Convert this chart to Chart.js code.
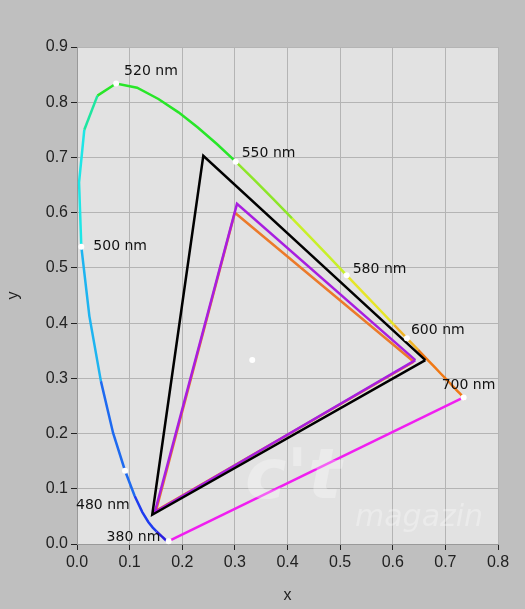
<!DOCTYPE html>
<html>
<head>
<meta charset="utf-8">
<script src="https://cdn.jsdelivr.net/npm/chart.js@4"></script>
<style>
  html, body { margin: 0; padding: 0; background: #bfbfbf; }
  #wrap { width: 525px; height: 609px; }
</style>
</head>
<body>
<div id="wrap"><canvas id="cie"></canvas></div>
<script>
// Spektralzug CIE 1931 (nm, x, y)
const wavelengths = [380,385,390,395,400,405,410,415,420,425,430,435,440,445,450,455,460,465,470,475,480,485,490,495,500,505,510,515,520,525,530,535,540,545,550,555,560,565,570,575,580,585,590,595,600,605,610,615,620,625,630,635,640,645,650,655,660,665,670,680,690,700];
const locusX = [0.1741,0.1740,0.1738,0.1736,0.1733,0.1730,0.1726,0.1721,0.1714,0.1703,0.1689,0.1669,0.1644,0.1611,0.1566,0.1510,0.1440,0.1355,0.1241,0.1096,0.0913,0.0687,0.0454,0.0235,0.0082,0.0039,0.0139,0.0389,0.0743,0.1142,0.1547,0.1929,0.2296,0.2658,0.3016,0.3373,0.3731,0.4087,0.4441,0.4788,0.5125,0.5448,0.5752,0.6029,0.6270,0.6482,0.6658,0.6801,0.6915,0.7006,0.7079,0.7140,0.7190,0.7230,0.7260,0.7283,0.7300,0.7311,0.7320,0.7334,0.7344,0.7347];
const locusY = [0.0050,0.0050,0.0049,0.0049,0.0048,0.0048,0.0048,0.0048,0.0051,0.0058,0.0069,0.0086,0.0109,0.0138,0.0177,0.0227,0.0297,0.0399,0.0578,0.0868,0.1327,0.2007,0.2950,0.4127,0.5384,0.6548,0.7502,0.8120,0.8338,0.8262,0.8059,0.7816,0.7543,0.7243,0.6923,0.6589,0.6245,0.5896,0.5547,0.5202,0.4866,0.4544,0.4242,0.3965,0.3725,0.3514,0.3340,0.3197,0.3083,0.2993,0.2920,0.2859,0.2809,0.2770,0.2740,0.2717,0.2700,0.2689,0.2680,0.2666,0.2656,0.2653];

// markierte Wellenlängen
const markedNm = [380, 480, 500, 520, 550, 580, 600, 700];
const markLabels = ['380 nm', '480 nm', '500 nm', '520 nm', '550 nm', '580 nm', '600 nm', '700 nm'];

// Farbdreiecke (Rot, Grün, Blau, zurück zu Rot)
const blackX  = [0.662, 0.240, 0.143, 0.662];
const blackY  = [0.333, 0.703, 0.053, 0.333];
const violetX = [0.643, 0.304, 0.148, 0.643];
const violetY = [0.333, 0.616, 0.058, 0.333];
const orangeX = [0.640, 0.300, 0.150, 0.640];
const orangeY = [0.330, 0.600, 0.060, 0.330];
const whiteX = [0.333];
const whiteY = [0.333];

const pts = (xs, ys) => xs.map((x, i) => ({ x: x, y: ys[i] }));

function locusColor(nm) {
    if (nm <= 450) return '#2a1ee0';
    if (nm <= 470) return '#1e3cf0';
    if (nm <= 485) return '#1e6af0';
    if (nm <= 495) return '#1eb4f0';
    if (nm <= 505) return '#1ee6e6';
    if (nm <= 512) return '#1ee6a0';
    if (nm <= 545) return '#28e628';
    if (nm <= 560) return '#8ce628';
    if (nm <= 575) return '#c8f028';
    if (nm <= 590) return '#e6e628';
    if (nm <= 600) return '#f0b428';
    return '#f07814';
}

const labelPlugin = {
    id: 'labels',
    afterDatasetsDraw(chart) {
        const ctx = chart.ctx;
        const xs = chart.scales.x, ys = chart.scales.y;
        const off = { 380: [-62, -4], 480: [-49, 35], 500: [12, 0], 520: [8, -12], 550: [6, -8], 580: [6, -6], 600: [4, -8], 700: [-22, -12] };
        ctx.save();
        ctx.font = '14px "DejaVu Sans", sans-serif';
        ctx.textBaseline = 'middle';
        // Wasserzeichen
        ctx.fillStyle = 'rgba(255,255,255,0.3)';
        ctx.font = 'italic bold 70px "DejaVu Sans", sans-serif';
        ctx.fillText("c't", 245, 480);
        ctx.font = 'italic 30px "DejaVu Sans", sans-serif';
        ctx.fillText('magazin', 355, 518);
        ctx.font = '14px "DejaVu Sans", sans-serif';
        markedNm.forEach((nm, i) => {
            const k = wavelengths.indexOf(nm);
            const px = xs.getPixelForValue(locusX[k]);
            const py = ys.getPixelForValue(locusY[k]);
            ctx.fillStyle = '#ffffff';
            ctx.beginPath(); ctx.arc(px, py, 3, 0, Math.PI * 2); ctx.fill();
            ctx.fillStyle = '#111';
            ctx.fillText(markLabels[i], px + off[nm][0], py + off[nm][1]);
        });
        ctx.restore();
    }
};

const bgPlugin = {
    id: 'plotBg',
    beforeDraw(chart) {
        const { ctx, chartArea: a } = chart;
        ctx.save();
        ctx.fillStyle = '#bfbfbf';
        ctx.fillRect(0, 0, chart.width, chart.height);
        ctx.fillStyle = '#e2e2e2';
        ctx.fillRect(a.left, a.top, a.right - a.left, a.bottom - a.top);
        ctx.restore();
    }
};

// erster Datensatz liegt oben
new Chart(document.getElementById('cie'), {
    type: 'scatter',
    data: {
        datasets: [
            { data: pts(whiteX, whiteY), pointRadius: 3, pointBackgroundColor: '#ffffff', pointBorderWidth: 0 },
            { data: pts(blackX, blackY), showLine: true, borderColor: '#000000', borderWidth: 2.5, pointRadius: 0 },
            { data: pts(violetX, violetY), showLine: true, borderColor: '#a81ee0', borderWidth: 2.5, pointRadius: 0 },
            { data: pts(orangeX, orangeY), showLine: true, borderColor: '#ec7a2a', borderWidth: 2.5, pointRadius: 0 },
            { data: [{ x: locusX[0], y: locusY[0] }, { x: locusX[locusX.length - 1], y: locusY[locusY.length - 1] }],
              showLine: true, borderColor: '#f01ef0', borderWidth: 2.5, pointRadius: 0 },
            { data: pts(locusX, locusY), showLine: true, borderWidth: 2.5, pointRadius: 0,
              segment: { borderColor: c => locusColor(wavelengths[c.p0DataIndex]) } }
        ]
    },
    options: {
        responsive: true,
        maintainAspectRatio: false,
        animation: false,
        layout: { padding: { top: 47, right: 27, bottom: 0, left: 0 } },
        plugins: { legend: { display: false }, tooltip: { enabled: false } },
        scales: {
            x: {
                type: 'linear', min: 0, max: 0.8,
                ticks: { stepSize: 0.1, color: '#222', font: { size: 16 }, callback: v => v.toFixed(1) },
                grid: { color: '#b4b4b4', tickColor: '#222', tickLength: 6 },
                border: { color: '#999' },
                title: { display: true, text: 'x', color: '#222', font: { size: 16 } },
                afterFit: s => { s.height = 65; }
            },
            y: {
                type: 'linear', min: 0, max: 0.9,
                ticks: { stepSize: 0.1, color: '#222', font: { size: 16 }, callback: v => v.toFixed(1) },
                grid: { color: '#b4b4b4', tickColor: '#222', tickLength: 6 },
                border: { color: '#999' },
                title: { display: true, text: 'y', color: '#222', font: { size: 16 } },
                afterFit: s => { s.width = 77; }
            }
        }
    },
    plugins: [bgPlugin, labelPlugin]
});
</script>
</body>
</html>
